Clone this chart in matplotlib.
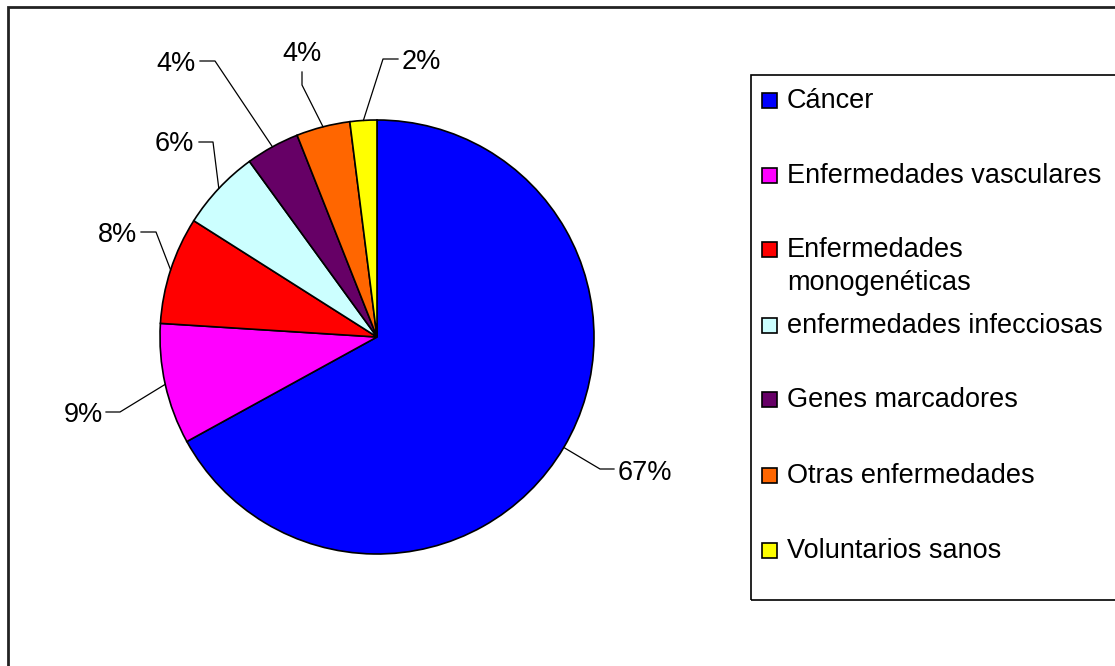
import numpy as np
import matplotlib
matplotlib.use("Agg")
import matplotlib.pyplot as plt
from matplotlib.patches import Rectangle

plt.rcParams['font.family'] = ['Liberation Sans', 'DejaVu Sans']

# data
categorias = ["Cáncer", "Enfermedades vasculares", "Enfermedades\nmonogenéticas",
              "enfermedades infecciosas", "Genes marcadores", "Otras enfermedades",
              "Voluntarios sanos"]
valores = [67, 9, 8, 6, 4, 4, 2]
colores = ["#0000FF", "#FF00FF", "#FF0000", "#CCFFFF", "#660066", "#FF6600", "#FFFF00"]

W, H = 1115, 666
fig = plt.figure(figsize=(W / 100, H / 100), dpi=100)
ax = fig.add_axes([0, 0, 1, 1])

# outer frame (runs off the right / bottom of the image)
ax.add_patch(Rectangle((8, -50), W + 100, H - 7 + 50, fill=False, lw=2, ec="#222222"))

# pie (pixel coords, y flipped)
cx, cy, r = 377, H - 337, 217
wedges, _ = ax.pie(valores, colors=colores, startangle=90, counterclock=False,
                   center=(cx, cy), radius=r, frame=True,
                   wedgeprops=dict(edgecolor="black", linewidth=1.2))
ax.set_xlim(0, W)
ax.set_ylim(0, H)
ax.set_aspect("equal")
ax.axis("off")

# label layout: elbow point, end point, text position, alignment (pixel coords from top)
layout = [
    ((600, 469), (614, 469), (618, 480), "left"),
    ((120, 412), (106, 412), (103, 422), "right"),
    ((156, 232), (141, 232), (137, 242), "right"),
    ((213, 142), (199, 142), (194, 151), "right"),
    ((215, 61), (200, 61), (196, 71), "right"),
    ((302, 85), (302, 72), (302, 61), "center"),
    ((383, 59), (398, 59), (402, 69), "left"),
]

total = sum(valores)
for w, v, (elb, end, txt, ha) in zip(wedges, valores, layout):
    ang = np.deg2rad((w.theta1 + w.theta2) / 2)
    sx, sy = cx + r * np.cos(ang), cy + r * np.sin(ang)
    ax.plot([sx, elb[0], end[0]], [sy, H - elb[1], H - end[1]], color="black", lw=0.9)
    ax.text(txt[0], H - txt[1], f"{round(100 * v / total)}%", ha=ha, va="baseline",
            fontsize=19.5)

# legend box (runs off the right edge)
ax.add_patch(Rectangle((751, H - 600), 500, 525, fill=False, lw=1.2, ec="black"))
baselines = [108, 183, 257, 333, 407, 483, 558]
for cat, col, b in zip(categorias, colores, baselines):
    ax.add_patch(Rectangle((762, H - b), 15, 15, fc=col, ec="black", lw=1.2))
    for i, linea in enumerate(cat.split("\n")):
        ax.text(787, H - b - 33 * i, linea, ha="left", va="baseline", fontsize=19.5)

fig.savefig("out.png", dpi=100)
